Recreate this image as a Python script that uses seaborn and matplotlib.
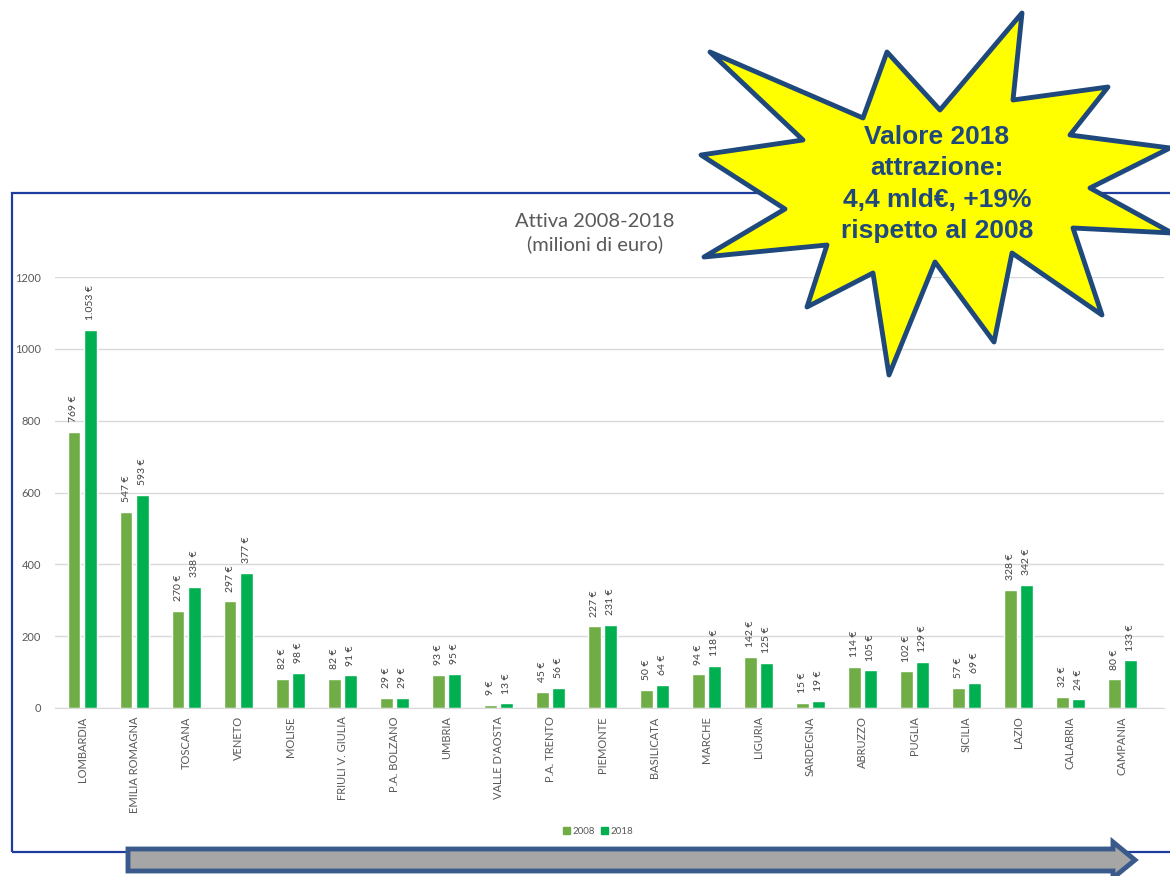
import pandas as pd
import matplotlib.pyplot as plt
import seaborn as sns
from matplotlib.patches import Polygon, Rectangle

# Data (milioni di euro)
regions = ['LOMBARDIA', 'EMILIA ROMAGNA', 'TOSCANA', 'VENETO', 'MOLISE', 'FRIULI V. GIULIA',
           'P.A. BOLZANO', 'UMBRIA', "VALLE D'AOSTA", 'P.A. TRENTO', 'PIEMONTE', 'BASILICATA',
           'MARCHE', 'LIGURIA', 'SARDEGNA', 'ABRUZZO', 'PUGLIA', 'SICILIA', 'LAZIO', 'CALABRIA',
           'CAMPANIA']
values_2008 = [769, 547, 270, 297, 82, 82, 29, 93, 9, 45, 227, 50, 94, 142, 15, 114, 102, 57, 328, 32, 80]
values_2018 = [1053, 593, 338, 377, 98, 91, 29, 95, 13, 56, 231, 64, 118, 125, 19, 105, 129, 69, 342, 24, 133]
years = ['2008', '2018']

df = pd.DataFrame({
    'region': regions * 2,
    'year': [years[0]] * len(regions) + [years[1]] * len(regions),
    'value': values_2008 + values_2018,
})

sns.set_style('white')
plt.rcParams['font.family'] = ['Lato', 'DejaVu Sans']

W, H = 1170, 876
fig = plt.figure(figsize=(W / 100, H / 100), dpi=100)
fig.patch.set_facecolor('white')


def fx(x):
    return x / W


def fy(y):
    return 1 - y / H


# chart box border
fig.patches.append(Rectangle((fx(12), fy(852)), fx(1175) - fx(12), fy(193) - fy(852),
                             transform=fig.transFigure, fill=False, edgecolor='#1F3D9C',
                             lw=1.6, zorder=0))

ax = fig.add_axes([fx(55), fy(708), fx(1164) - fx(55), fy(277) - fy(708)])
sns.barplot(data=df, x='region', y='value', hue='year', palette=['#70AD47', '#00B050'],
            width=0.62, gap=0.2, ax=ax, saturation=1)

ax.set_ylim(0, 1200)
ax.set_xlim(-0.52, 20.8)
ax.set_yticks(range(0, 1201, 200))
ax.yaxis.grid(True, color='#D9D9D9', lw=1)
ax.set_axisbelow(True)
for s in ['top', 'right', 'left']:
    ax.spines[s].set_visible(False)
ax.spines['bottom'].set_color('#D9D9D9')
ax.tick_params(axis='both', length=0, colors='#595959', labelsize=8)
ax.tick_params(axis='x', rotation=90, pad=6)
ax.tick_params(axis='y', pad=10)
ax.set_xlabel('')
ax.set_ylabel('')

for cont, vals in zip(ax.containers, [values_2008, values_2018]):
    labels = [f'{v:,} €'.replace(',', '.') for v in vals]
    ax.bar_label(cont, labels=labels, rotation=90, padding=7, fontsize=7.5, color='#404040')

ax.legend_.remove()
handles = [Rectangle((0, 0), 1, 1, color=c) for c in ['#70AD47', '#00B050']]
fig.legend(handles, years, loc='center', bbox_to_anchor=(fx(598), fy(831)), ncol=2,
           frameon=False, fontsize=7, handlelength=0.7, handleheight=0.7,
           handletextpad=0.3, columnspacing=0.6, labelcolor='#595959')

fig.text(fx(595), fy(233), 'Attiva 2008-2018\n(milioni di euro)', ha='center', va='center',
         fontsize=14.5, color='#595959', linespacing=1.4)

# arrow at the bottom
arrow_pts = [(128, 849), (1113, 849), (1113, 842), (1135, 860), (1113, 878), (1113, 871), (128, 871)]
fig.patches.append(Polygon([(fx(x), fy(y)) for x, y in arrow_pts], closed=True,
                           transform=fig.transFigure, facecolor='#A6A6A6',
                           edgecolor='#3A5A8C', lw=3.5, joinstyle='miter', zorder=5))

# star callout
star_pts = [(710, 52), (863, 118), (887, 52), (940, 110), (1022, 13), (1013, 100), (1108, 87),
            (1070, 135), (1170, 148), (1090, 188), (1172, 233), (1073, 228), (1102, 315),
            (1012, 253), (994, 342), (935, 262), (889, 375), (873, 273), (807, 307), (827, 245),
            (704, 257), (785, 209), (701, 155), (803, 140)]
fig.patches.append(Polygon([(fx(x), fy(y)) for x, y in star_pts], closed=True,
                           transform=fig.transFigure, facecolor='#FFFF00',
                           edgecolor='#1F497D', lw=3.5, joinstyle='round', zorder=6))
fig.text(fx(937), fy(184), 'Valore 2018\nattrazione:\n4,4 mld€, +19%\nrispetto al 2008',
         ha='center', va='center', fontsize=19, fontweight='bold', color='#1F497D',
         family=['Liberation Sans', 'DejaVu Sans'], linespacing=1.4, zorder=7)

fig.savefig('out.png', dpi=100)
